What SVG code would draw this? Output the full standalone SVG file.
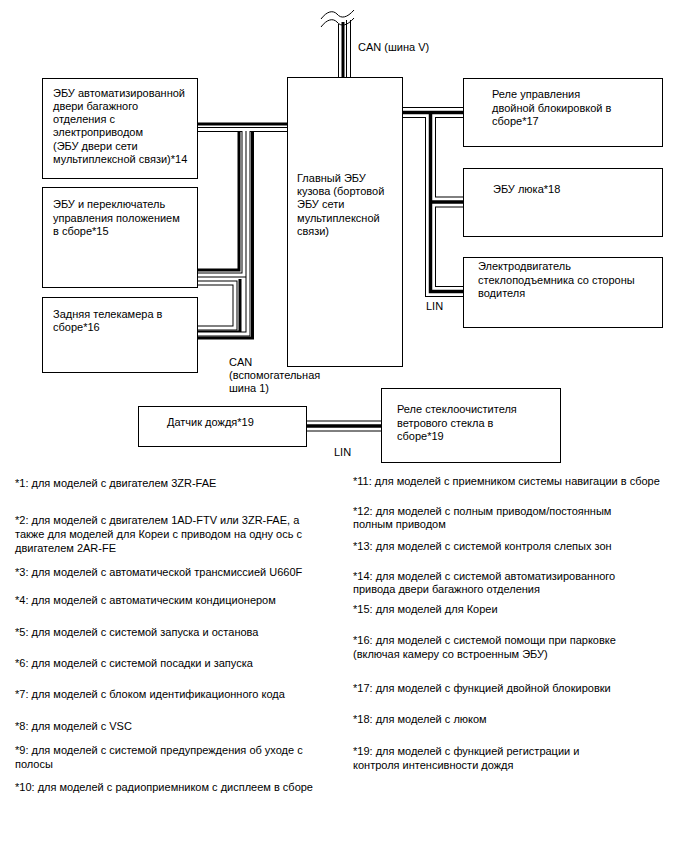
<svg xmlns="http://www.w3.org/2000/svg" width="688" height="852" viewBox="0 0 688 852">
<style>
.box{fill:#fff;stroke:#000;stroke-width:1}
text{font-family:"Liberation Sans",Arial,sans-serif;font-size:11px;fill:#000}
.fn{font-size:11px}
.k{fill:none;stroke:#000;stroke-width:3}
.wo{fill:none;stroke:#000;stroke-width:5}
.wi{fill:none;stroke:#fff;stroke-width:3}
.co{fill:none;stroke:#000;stroke-width:11}
.cw{fill:none;stroke:#fff;stroke-width:9}
.cc{fill:none;stroke:#000;stroke-width:3.5}
.thin{fill:none;stroke:#000;stroke-width:1}
</style>
<rect width="688" height="852" fill="#fff"/>
<g id="connectors">
  <path class="thin" d="M338.5,24 V78"/>
  <path class="k" d="M343,22 V78"/>
  <path class="wo" d="M348.5,20 V78"/>
  <path class="wi" d="M348.5,20 V78"/>
  <path class="thin" d="M321,19 C327,11 333,10 337,14 C341,19 347,18 354,10"/>
  <path class="thin" d="M321,27 C327,19 333,18 337,22 C341,27 347,26 354,18"/>
  <path class="k" d="M196,124 H288"/>
  <path class="k" d="M239,131 V270 H196"/>
  <path class="k" d="M240,279 V332 H196"/>
  <path class="k" d="M252.5,131 V338 H196"/>
  <path class="wo" d="M196,129.5 H288 M244,129.5 V275 H196 M248,129.5 V334 H196 M196,283 H235 V328 H196"/>
  <path class="wi" d="M196,129.5 H288 M244,129.5 V275 H196 M248,129.5 V334 H196 M196,283 H235 V328 H196"/>
  <path class="co" d="M401,112.5 H464 M430.5,112.5 V291.5 H464 M430.5,202 H464"/>
  <path class="cw" d="M401,112.5 H464 M430.5,112.5 V291.5 H464 M430.5,202 H464"/>
  <path class="cc" d="M401,112.5 H464 M430.5,112.5 V291.5 H464 M430.5,202 H464"/>
  <path class="co" d="M306,426 H382"/>
  <path class="cw" d="M306,426 H382"/>
  <path class="cc" d="M306,426 H382"/>
</g>
<g id="n_main">
  <rect class="box" x="287.5" y="77.5" width="115" height="289"/>
  <text x="297" y="182">Главный ЭБУ</text>
  <text x="297" y="195">кузова (бортовой</text>
  <text x="297" y="208">ЭБУ сети</text>
  <text x="297" y="222">мультиплексной</text>
  <text x="297" y="235">связи)</text>
</g>
<g id="n_tailgate">
  <rect class="box" x="42.5" y="78.5" width="155" height="100"/>
  <text x="53" y="96.5">ЭБУ автоматизированной</text>
  <text x="53" y="110">двери багажного</text>
  <text x="53" y="123">отделения с</text>
  <text x="53" y="136">электроприводом</text>
  <text x="53" y="150">(ЭБУ двери сети</text>
  <text x="53" y="163">мультиплексной связи)*14</text>
</g>
<g id="n_position">
  <rect class="box" x="42.5" y="187.5" width="155" height="100"/>
  <text x="53" y="208">ЭБУ и переключатель</text>
  <text x="53" y="222">управления положением</text>
  <text x="53" y="235">в сборе*15</text>
</g>
<g id="n_camera">
  <rect class="box" x="42.5" y="297.5" width="155" height="75"/>
  <text x="53" y="318">Задняя телекамера в</text>
  <text x="53" y="331">сборе*16</text>
</g>
<g id="n_doublelock">
  <rect class="box" x="463.5" y="78.5" width="199" height="68"/>
  <text x="492" y="98">Реле управления</text>
  <text x="492" y="112">двойной блокировкой в</text>
  <text x="492" y="125">сборе*17</text>
</g>
<g id="n_sunroof">
  <rect class="box" x="463.5" y="168.5" width="199" height="68"/>
  <text x="493" y="193">ЭБУ люка*18</text>
</g>
<g id="n_window">
  <rect class="box" x="463.5" y="257.5" width="199" height="70"/>
  <text x="478" y="270">Электродвигатель</text>
  <text x="478" y="284">стеклоподъемника со стороны</text>
  <text x="478" y="297">водителя</text>
</g>
<g id="n_rain">
  <rect class="box" x="138.5" y="406.5" width="168" height="40"/>
  <text x="167" y="426">Датчик дождя*19</text>
</g>
<g id="n_wiper">
  <rect class="box" x="381.5" y="388.5" width="179" height="74"/>
  <text x="397" y="413">Реле стеклоочистителя</text>
  <text x="397" y="427">ветрового стекла в</text>
  <text x="397" y="440">сборе*19</text>
</g>
<g id="labels">
  <text x="358" y="51">CAN (шина V)</text>
  <text x="229" y="366">CAN</text>
  <text x="229" y="379">(вспомогательная</text>
  <text x="229" y="392">шина 1)</text>
  <text x="426" y="310">LIN</text>
  <text x="334" y="456">LIN</text>
</g>
<g id="footnotes">
  <text class="fn" x="15" y="487">*1: для моделей с двигателем 3ZR-FAE</text>
  <text class="fn" x="15" y="524">*2: для моделей с двигателем 1AD-FTV или 3ZR-FAE, а</text>
  <text class="fn" x="15" y="538">также для моделей для Кореи с приводом на одну ось с</text>
  <text class="fn" x="15" y="552">двигателем 2AR-FE</text>
  <text class="fn" x="15" y="576">*3: для моделей с автоматической трансмиссией U660F</text>
  <text class="fn" x="15" y="604">*4: для моделей с автоматическим кондиционером</text>
  <text class="fn" x="15" y="636">*5: для моделей с системой запуска и останова</text>
  <text class="fn" x="15" y="667">*6: для моделей с системой посадки и запуска</text>
  <text class="fn" x="15" y="698">*7: для моделей с блоком идентификационного кода</text>
  <text class="fn" x="15" y="730">*8: для моделей с VSC</text>
  <text class="fn" x="15" y="754">*9: для моделей с системой предупреждения об уходе с</text>
  <text class="fn" x="15" y="768">полосы</text>
  <text class="fn" x="15" y="791">*10: для моделей с радиоприемником с дисплеем в сборе</text>
  <text class="fn" x="353" y="485">*11: для моделей с приемником системы навигации в сборе</text>
  <text class="fn" x="353" y="515">*12: для моделей с полным приводом/постоянным</text>
  <text class="fn" x="353" y="528">полным приводом</text>
  <text class="fn" x="353" y="550">*13: для моделей с системой контроля слепых зон</text>
  <text class="fn" x="353" y="580">*14: для моделей с системой автоматизированного</text>
  <text class="fn" x="353" y="593">привода двери багажного отделения</text>
  <text class="fn" x="353" y="613">*15: для моделей для Кореи</text>
  <text class="fn" x="353" y="644">*16: для моделей с системой помощи при парковке</text>
  <text class="fn" x="353" y="658">(включая камеру со встроенным ЭБУ)</text>
  <text class="fn" x="353" y="692">*17: для моделей с функцией двойной блокировки</text>
  <text class="fn" x="353" y="723">*18: для моделей с люком</text>
  <text class="fn" x="353" y="755">*19: для моделей с функцией регистрации и</text>
  <text class="fn" x="353" y="769">контроля интенсивности дождя</text>
</g>
</svg>
